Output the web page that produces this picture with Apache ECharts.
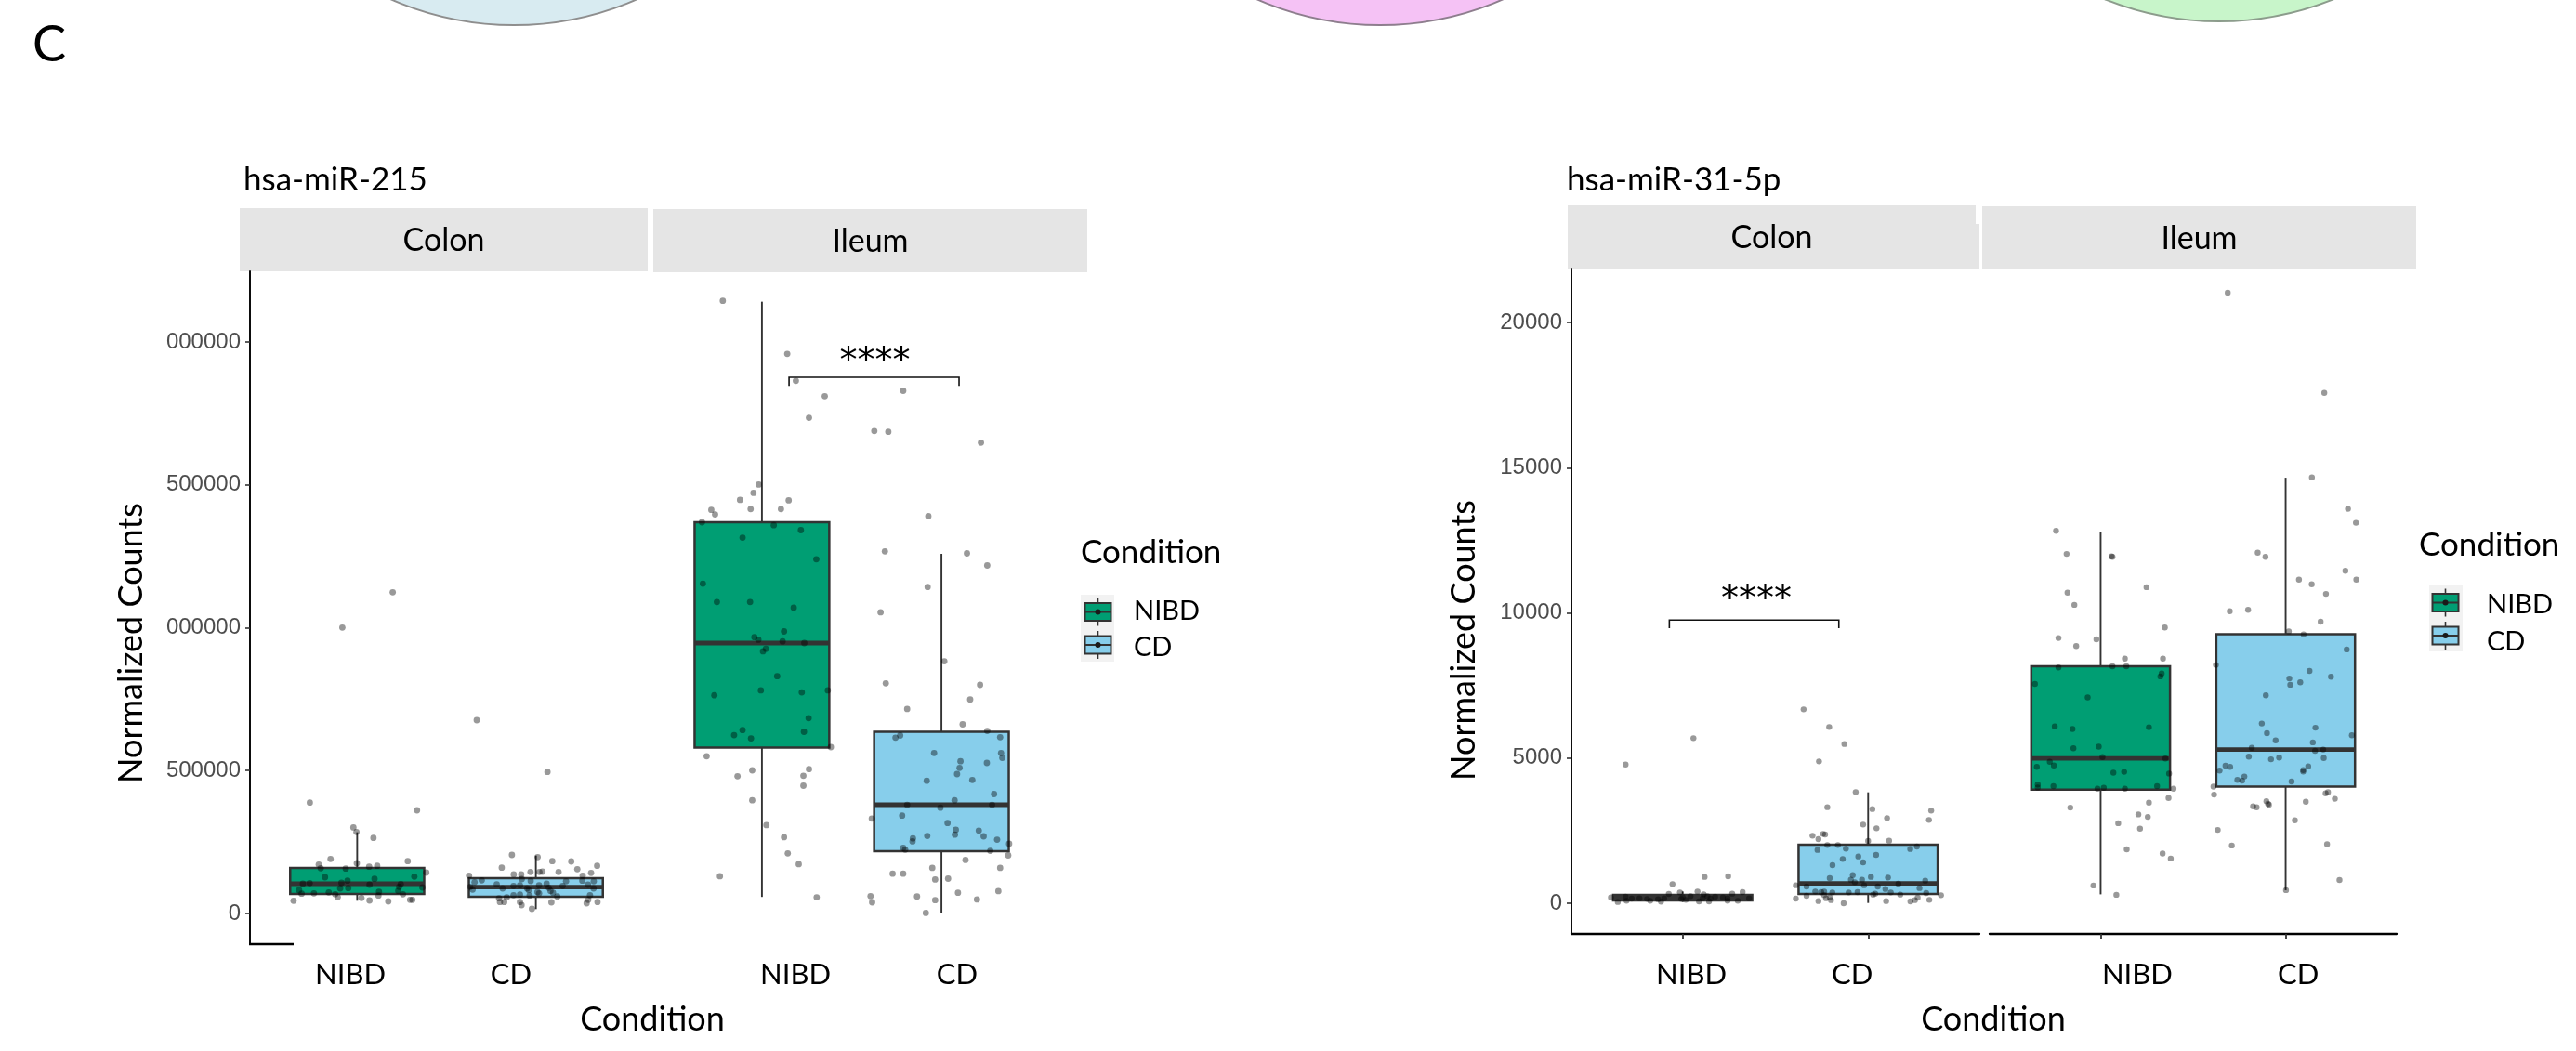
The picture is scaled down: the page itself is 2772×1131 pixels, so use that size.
<!DOCTYPE html>
<html><head><meta charset="utf-8">
<script src="https://cdn.jsdelivr.net/npm/echarts@6/dist/echarts.min.js"></script>
<style>html,body{margin:0;padding:0;background:#fff}#c{width:2772px;height:1131px}</style>
</head><body><div id="c"></div><script>
// ---------------- data ----------------
const categories = ['NIBD', 'CD'];
const facets = ['Colon', 'Ileum'];
const genes = ['hsa-miR-215', 'hsa-miR-31-5p'];
const legendTitle = 'Condition';
const xTitle = 'Condition';
const yTitle = 'Normalized Counts';
const panelLetter = 'C';
const sigLabel = '****';

const miR215Ticks = [0, 500000, 1000000, 1500000, 2000000];
const miR215TickLabels = ['0', '500000', '000000', '500000', '000000'];
const miR31Ticks = [0, 5000, 10000, 15000, 20000];
const miR31TickLabels = ['0', '5000', '10000', '15000', '20000'];

// box statistics: [lower whisker, Q1, median, Q3, upper whisker] for NIBD, CD
const miR215ColonBox = [[44500, 68300, 104000, 159400, 284000], [15200, 58500, 92000, 123600, 202600]];
const miR215IleumBox = [[57900, 580500, 946300, 1369000, 2141000], [3250, 217900, 380500, 635800, 1258500]];
const miR31ColonBox = [[43, 100, 195, 290, 405], [10, 320, 683, 2016, 3819]];
const miR31IleumBox = [[307, 3914, 4986, 8160, 12797], [451, 4016, 5293, 9261, 14653]];

// jittered points: [horizontal jitter (category units), value]
const miR215ColonNIBD = [[-0.083,1000600],[0.199,1124000],[-0.265,388000],[0.335,361000],[-0.021,301000],[-0.004,285000],[0.091,264400],[-0.149,190800],[-0.215,171300],[-0.204,158300],[-0.002,175600],[-0.064,157100],[0.067,163600],[0.112,166900],[0.283,183100],[0.387,143100],[0.320,129100],[-0.180,126800],[0.097,121300],[-0.054,114800],[-0.304,104000],[-0.266,106300],[-0.088,107300],[0.069,100800],[0.244,103000],[-0.095,87800],[-0.050,88800],[0.235,93300],[0.365,91100],[-0.325,81300],[0.230,79000],[-0.311,69300],[-0.242,70600],[-0.159,73800],[-0.123,67300],[0.122,75800],[0.256,67300],[-0.109,57600],[0.024,54300],[0.119,62800],[-0.356,44500],[0.069,45500],[0.174,42300],[0.296,47800],[0.309,47800]];
const miR215ColonCD = [[-0.331,676400],[0.065,495300],[-0.134,204900],[0.010,197300],[0.092,183100],[0.198,182100],[0.343,166900],[-0.191,160300],[0.232,155100],[-0.030,145400],[0.020,145400],[0.037,146300],[0.127,145400],[-0.124,136600],[-0.082,136600],[0.262,132300],[0.309,142100],[-0.374,132300],[-0.079,120300],[-0.303,116000],[-0.343,109500],[-0.029,113800],[0.169,112700],[0.260,114800],[0.324,112700],[-0.219,101900],[-0.125,96600],[-0.089,98700],[0.018,98700],[0.060,104000],[0.150,96600],[0.292,100800],[-0.367,93300],[-0.186,87800],[-0.049,87800],[0.072,90100],[0.323,87800],[-0.354,83500],[-0.040,82300],[0.082,79000],[0.009,74800],[-0.125,64000],[-0.089,66000],[-0.035,62800],[0.018,70600],[0.096,72500],[0.120,59500],[0.303,64000],[-0.206,53000],[-0.163,56300],[-0.201,40000],[-0.177,40000],[-0.089,40000],[0.087,39000],[0.284,35800],[0.345,40000],[0.293,47800],[-0.080,29300],[-0.022,16300]];
const miR215IleumNIBD = [[-0.218,2144000],[0.141,1958300],[0.189,1864000],[0.350,1810400],[0.262,1734600],[-0.018,1501100],[-0.047,1471800],[-0.122,1447500],[0.149,1445900],[-0.282,1412300],[-0.261,1396400],[-0.063,1415300],[0.106,1415300],[-0.334,1369100],[0.066,1358700],[0.217,1341400],[-0.108,1315100],[0.303,1239700],[-0.329,1154100],[-0.251,1090100],[-0.066,1090100],[0.177,1069900],[0.123,987000],[-0.042,966800],[-0.020,958000],[0.115,952200],[0.236,946300],[0.022,926100],[0.006,917400],[0.085,830200],[-0.265,763600],[-0.006,780800],[0.222,773600],[0.367,780800],[0.260,683600],[-0.155,624100],[-0.108,641600],[-0.061,612700],[0.234,635800],[0.384,582100],[-0.308,550200],[-0.136,480300],[-0.054,500800],[0.231,481900],[0.262,505000],[0.231,447200],[-0.054,396100],[0.025,309300],[0.123,267000],[0.144,210400],[0.205,172700],[-0.234,130400],[0.305,56600]];
const miR215IleumCD = [[-0.213,1829300],[-0.374,1688400],[-0.296,1685500],[0.220,1647800],[-0.073,1390600],[-0.315,1267300],[0.142,1260200],[0.255,1217900],[-0.077,1142400],[-0.339,1054000],[0.016,882600],[-0.310,805500],[0.215,800000],[0.160,749000],[-0.191,715800],[0.118,661800],[0.255,638700],[-0.256,615300],[-0.230,622800],[0.327,616900],[-0.041,561600],[0.106,532700],[0.332,561600],[0.339,544400],[0.253,526800],[0.101,509600],[0.087,487800],[-0.082,464400],[0.172,467300],[0.293,417900],[0.073,396100],[-0.191,380200],[-0.006,370100],[0.282,380200],[-0.388,332400],[-0.219,342400],[0.034,316400],[0.080,293000],[0.075,275800],[-0.079,271200],[0.208,290100],[0.235,269900],[0.310,258200],[-0.159,262800],[-0.161,252400],[-0.213,229300],[-0.202,223400],[0.272,219200],[0.377,243900],[0.372,203300],[0.134,187300],[-0.051,159700],[0.327,159700],[-0.272,139200],[-0.213,139200],[-0.035,119000],[0.037,122000],[0.092,72500],[0.317,78400],[-0.395,60800],[-0.386,39000],[-0.136,59500],[-0.035,46500],[0.198,49100],[-0.087,2000]];
const miR31ColonNIBD = [[-0.308,4778],[0.058,5685],[0.118,907],[0.245,928],[-0.055,661],[-0.015,373],[0.080,405],[0.323,384],[0.267,331],[-0.075,320],[0.113,309],[-0.387,203],[-0.308,224],[-0.275,160],[-0.192,149],[-0.133,139],[-0.100,171],[0.000,213],[0.042,245],[0.133,245],[0.175,224],[0.217,203],[0.358,171],[-0.350,43],[-0.303,85],[-0.175,85],[-0.117,53],[-0.008,149],[0.088,64],[0.142,64],[0.242,85],[0.297,85],[0.108,171],[0.150,160],[0.017,117],[-0.233,171],[0.242,171]];
const miR31ColonCD = [[-0.348,6677],[-0.210,6069],[-0.128,5483],[-0.265,4885],[-0.067,3829],[-0.220,3307],[0.023,3243],[0.340,3189],[0.102,2933],[0.328,2869],[-0.027,2709],[0.045,2581],[-0.243,2389],[-0.232,2368],[-0.300,2325],[-0.268,2208],[0.113,2155],[0.000,2144],[-0.220,2005],[-0.163,2005],[0.263,1952],[-0.273,1835],[-0.120,1877],[0.227,1867],[0.043,1664],[-0.053,1611],[-0.137,1525],[-0.027,1408],[-0.192,1312],[-0.083,971],[0.015,907],[0.107,885],[-0.207,864],[-0.093,811],[-0.033,811],[0.308,779],[-0.072,725],[0.163,672],[-0.022,619],[-0.390,619],[-0.332,576],[0.052,576],[0.093,491],[0.277,523],[-0.285,405],[-0.253,384],[-0.237,405],[-0.193,373],[-0.105,373],[-0.057,384],[0.027,299],[0.038,331],[0.122,373],[0.173,299],[0.313,352],[0.393,277],[-0.332,256],[-0.237,277],[-0.227,171],[-0.207,203],[-0.390,160],[-0.268,75],[-0.200,107],[0.097,75],[0.228,64],[0.252,107],[0.330,117],[-0.132,0],[0.267,192]];
const miR31IleumNIBD = [[-0.241,12826],[-0.184,12029],[0.059,11942],[0.064,11930],[-0.179,10698],[-0.142,10275],[0.248,10883],[0.347,9494],[-0.228,9133],[-0.132,8854],[-0.023,9088],[0.131,8422],[0.337,8422],[-0.228,8118],[0.064,8160],[0.139,8160],[0.330,7914],[0.323,7811],[-0.355,7552],[-0.070,7088],[-0.248,6090],[-0.152,6000],[0.261,6061],[-0.147,5334],[-0.010,5392],[0.010,5030],[-0.275,4870],[0.350,4986],[-0.345,4698],[-0.253,4742],[0.069,4496],[0.127,4525],[0.370,4467],[-0.340,4090],[-0.340,3987],[-0.255,4032],[-0.017,3946],[0.017,3974],[0.131,3946],[0.305,4032],[0.394,3946],[0.367,3626],[-0.164,3293],[0.261,3466],[0.204,3059],[0.255,2973],[0.095,2755],[0.213,2566],[0.141,1856],[0.335,1712],[0.379,1539],[-0.039,611],[0.085,291]];
const miR31IleumCD = [[-0.313,21027],[0.209,17578],[0.142,14666],[0.337,13581],[0.380,13101],[-0.151,12074],[-0.109,11926],[0.323,11450],[0.072,11146],[0.382,11146],[0.141,10986],[0.218,10653],[-0.302,10058],[-0.203,10102],[0.189,9696],[0.017,9363],[0.097,9261],[0.330,8739],[-0.377,8205],[0.129,8000],[0.020,7741],[0.245,7798],[0.079,7610],[0.025,7523],[-0.107,7162],[-0.129,6189],[0.161,6045],[-0.101,5856],[-0.054,5610],[0.358,5786],[0.147,5539],[-0.183,5350],[0.159,5248],[0.203,5293],[-0.199,5046],[-0.079,4957],[-0.035,5018],[0.206,5002],[-0.357,4566],[-0.325,4739],[-0.300,4698],[0.095,4582],[0.122,4710],[0.095,4538],[-0.223,4365],[-0.261,4250],[-0.235,4221],[0.032,4192],[-0.390,4016],[-0.387,3741],[0.216,3786],[0.229,3827],[0.266,3597],[-0.104,3510],[-0.095,3424],[-0.176,3334],[-0.157,3306],[-0.090,3392],[0.109,3494],[0.050,2858],[-0.367,2525],[-0.291,1987],[0.224,2032],[0.291,800],[0.002,451]];

// significance brackets: [x start, x end, bar value, tick-end value, label x, label value]
const miR215Bracket = [1.151, 2.098, 1876400, 1846500, 1.630, 1961000];
const miR31Bracket = [0.928, 1.842, 9750, 9472, 1.397, 10752];

// ---------------- styles / layout ----------------
const fills = ['#009E73', '#87CEEB'];
const FONT = 'Lato, "Open Sans", sans-serif';
const TICKFONT = '"Liberation Sans", Arial, sans-serif';
const STARFONT = '"DejaVu Sans", sans-serif';
const BOX_W = 0.75;

const panels = [
  {left: 269, width: 423, top: 292, height: 724, min: -107317, max: 2247154, box: miR215ColonBox, dots: [miR215ColonNIBD, miR215ColonCD], labelAt: [0.962, 1.861], labelMargin: 17, xLine: false, yAxis: true, ticks: miR215Ticks, tickLabels: miR215TickLabels, size: 6.8},
  {left: 704, width: 425, top: 292, height: 724, min: -107317, max: 2247154, box: miR215IleumBox, dots: [miR215IleumNIBD, miR215IleumCD], labelAt: [1.187, 2.087], labelMargin: 17, xLine: false, yAxis: false, bracket: miR215Bracket, size: 6.8},
  {left: 1691, width: 439, top: 289, height: 716, min: -1056, max: 21856, box: miR31ColonBox, dots: [miR31ColonNIBD, miR31ColonCD], labelAt: [1.047, 1.914], labelMargin: 28, xLine: true, yAxis: true, ticks: miR31Ticks, tickLabels: miR31TickLabels, bracket: miR31Bracket, size: 6.4},
  {left: 2141, width: 438, top: 289, height: 716, min: -1056, max: 21856, box: miR31IleumBox, dots: [miR31IleumNIBD, miR31IleumCD], labelAt: [1.198, 2.068], labelMargin: 28, xLine: true, yAxis: false, size: 6.4}
];

const grids = [], xAxes = [], yAxes = [], series = [];

function boxRender(params, api) {
  const x = api.value(0);
  const ci = api.value(6);
  const halfW = api.size([BOX_W, 0])[0] / 2;
  const cx = api.coord([x, 0])[0];
  const yLo = api.coord([x, api.value(1)])[1];
  const yQ1 = api.coord([x, api.value(2)])[1];
  const yMed = api.coord([x, api.value(3)])[1];
  const yQ3 = api.coord([x, api.value(4)])[1];
  const yHi = api.coord([x, api.value(5)])[1];
  const c = '#333333';
  return {type: 'group', children: [
    {type: 'line', shape: {x1: cx, y1: yHi, x2: cx, y2: yQ3}, style: {stroke: c, lineWidth: 1.9}},
    {type: 'line', shape: {x1: cx, y1: yQ1, x2: cx, y2: yLo}, style: {stroke: c, lineWidth: 1.9}},
    {type: 'rect', shape: {x: cx - halfW, y: yQ3, width: 2 * halfW, height: Math.max(yQ1 - yQ3, 1)}, style: {fill: fills[ci], stroke: c, lineWidth: 2.5}},
    {type: 'line', shape: {x1: cx - halfW, y1: yMed, x2: cx + halfW, y2: yMed}, style: {stroke: c, lineWidth: 4.8}}
  ]};
}

function bracketRender(params, api) {
  const a = api.coord([api.value(0), api.value(2)]);
  const b = api.coord([api.value(1), api.value(2)]);
  const tb = api.coord([api.value(0), api.value(3)])[1];
  const t = api.coord([api.value(4), api.value(5)]);
  return {type: 'group', children: [
    {type: 'polyline', shape: {points: [[a[0], tb], [a[0], a[1]], [b[0], b[1]], [b[0], tb]]}, style: {stroke: '#111', lineWidth: 1.6, fill: null}},
    {type: 'text', x: t[0], y: t[1] + 10, style: {text: sigLabel, fill: '#000', font: '38px ' + STARFONT, align: 'center', verticalAlign: 'middle', textAlign: 'center', textVerticalAlign: 'middle'}}
  ]};
}

panels.forEach((p, g) => {
  grids.push({left: p.left, top: p.top, width: p.width, height: p.height, containLabel: false});
  xAxes.push({
    gridIndex: g, type: 'value', min: 0.4, max: 2.6,
    axisLine: {show: p.xLine, onZero: false, lineStyle: {color: '#000', width: 2.3}},
    axisTick: {show: p.xLine, customValues: [1, 2], length: 6, lineStyle: {color: '#333', width: 1.8}},
    axisLabel: {show: true, customValues: p.labelAt, formatter: v => (v < 1.5 ? categories[0] : categories[1]), color: '#000', fontFamily: FONT, fontSize: 31, margin: p.labelMargin},
    splitLine: {show: false}
  });
  const ya = {gridIndex: g, type: 'value', min: p.min, max: p.max, splitLine: {show: false}};
  if (p.yAxis) {
    ya.axisLine = {show: true, onZero: false, lineStyle: {color: '#000', width: 1.9}};
    ya.axisTick = {show: true, customValues: p.ticks, length: 5, lineStyle: {color: '#333', width: 1.6}};
    ya.axisLabel = {customValues: p.ticks, color: '#4D4D4D', fontFamily: TICKFONT, fontSize: 24, margin: 10,
      formatter: v => { let k = 0; p.ticks.forEach((t, i) => { if (Math.abs(t - v) < Math.abs(p.ticks[k] - v)) k = i; }); return p.tickLabels[k]; }};
  } else {
    ya.show = false;
  }
  yAxes.push(ya);
  series.push({
    type: 'custom', xAxisIndex: g, yAxisIndex: g, renderItem: boxRender, z: 2, clip: false,
    encode: {x: 0, y: [1, 2, 3, 4, 5]},
    data: p.box.map((s, i) => [i + 1, s[0], s[1], s[2], s[3], s[4], i])
  });
  p.dots.forEach((d, i) => {
    series.push({
      type: 'scatter', xAxisIndex: g, yAxisIndex: g, z: 4, symbolSize: p.size,
      itemStyle: {color: 'rgba(0,0,0,0.5)'}, silent: true,
      data: d.map(([dx, v]) => [i + 1 + dx, v])
    });
  });
  if (p.bracket) {
    series.push({type: 'custom', xAxisIndex: g, yAxisIndex: g, renderItem: bracketRender, z: 5, clip: false, data: [p.bracket]});
  }
});

// ---------------- decorations (text, strips, legend) ----------------
function txt(text, x, y, size, opts) {
  return Object.assign({type: 'text', x: x, y: y, style: Object.assign({text: text, fill: '#000', font: size + 'px ' + FONT, align: 'left', verticalAlign: 'middle', textAlign: 'left', textVerticalAlign: 'middle'}, (opts && opts.style) || {})}, (opts && opts.el) || {});
}
const graphic = [];
// partial circles from the figure above
[[553, -303, '#D8EBF1', '#8E8E8E'], [1485, -303, '#F5C2F5', '#8E7E8E'], [2388, -307, '#C8F5CA', '#8C9C8C']].forEach(c => {
  graphic.push({type: 'circle', shape: {cx: c[0], cy: c[1], r: 330}, style: {fill: c[2], stroke: c[3], lineWidth: 2}});
});
graphic.push(txt(panelLetter, 35, 49, 54));
// gene titles
graphic.push(txt(genes[0], 262, 194, 35));
graphic.push(txt(genes[1], 1686, 194, 35));
// strips
const strips = [[258, 224, 439, 68, 0], [703, 225, 467, 68, 1], [1687, 221, 439, 68, 0], [2133, 222, 467, 68, 1]];
strips.forEach(s => {
  graphic.push({type: 'rect', shape: {x: s[0], y: s[1], width: s[2], height: s[3]}, style: {fill: '#E5E5E5'}});
  graphic.push(txt(facets[s[4]], s[0] + s[2] / 2, s[1] + s[3] / 2 + 1, 34, {style: {align: 'center', textAlign: 'center'}}));
});
graphic.push({type: 'rect', shape: {x: 2126, y: 241, width: 4, height: 48}, style: {fill: '#E5E5E5'}});
// truncated x-axis segment of the left chart
graphic.push({type: 'line', shape: {x1: 268, y1: 1016, x2: 316, y2: 1016}, style: {stroke: '#000', lineWidth: 2.5}});
// axis titles
graphic.push(txt(xTitle, 702, 1097, 36, {style: {align: 'center', textAlign: 'center'}}));
graphic.push(txt(xTitle, 2145, 1097, 36, {style: {align: 'center', textAlign: 'center'}}));
graphic.push(txt(yTitle, 141, 692, 36, {style: {align: 'center', textAlign: 'center'}, el: {rotation: Math.PI / 2}}));
graphic.push(txt(yTitle, 1575, 689, 36, {style: {align: 'center', textAlign: 'center'}, el: {rotation: Math.PI / 2}}));
// legends
const legends = [
  {tx: 1163, ty: 595, bgX: 1163, bgY: 640, bgH: 72, kx: 1181.5, ky: [658.5, 694], lx: 1220, ly: [658, 697]},
  {tx: 2603, ty: 587, bgX: 2614, bgY: 630, bgH: 71, kx: 2631.5, ky: [648.5, 684], lx: 2676, ly: [651, 691]}
];
legends.forEach(L => {
  graphic.push(txt(legendTitle, L.tx, L.ty, 35));
  graphic.push({type: 'rect', shape: {x: L.bgX, y: L.bgY, width: 36, height: L.bgH}, style: {fill: '#F2F2F2'}});
  categories.forEach((name, k) => {
    const cx = L.kx, cy = L.ky[k];
    graphic.push({type: 'line', shape: {x1: cx, y1: cy - 15, x2: cx, y2: cy + 15}, style: {stroke: '#333', lineWidth: 1.6}});
    graphic.push({type: 'rect', shape: {x: cx - 14, y: cy - 9.5, width: 28, height: 19}, style: {fill: fills[k], stroke: '#333', lineWidth: 2}});
    graphic.push({type: 'line', shape: {x1: cx - 14, y1: cy, x2: cx + 14, y2: cy}, style: {stroke: '#333', lineWidth: 2}});
    graphic.push({type: 'circle', shape: {cx: cx, cy: cy, r: 3}, style: {fill: '#1a1a1a'}});
    graphic.push(txt(name, L.lx, L.ly[k], 29));
  });
});

const chart = echarts.init(document.getElementById('c'), null, {renderer: 'canvas'});
chart.setOption({
  backgroundColor: '#fff',
  animation: false,
  grid: grids, xAxis: xAxes, yAxis: yAxes, series: series,
  graphic: graphic
});
</script></body></html>
